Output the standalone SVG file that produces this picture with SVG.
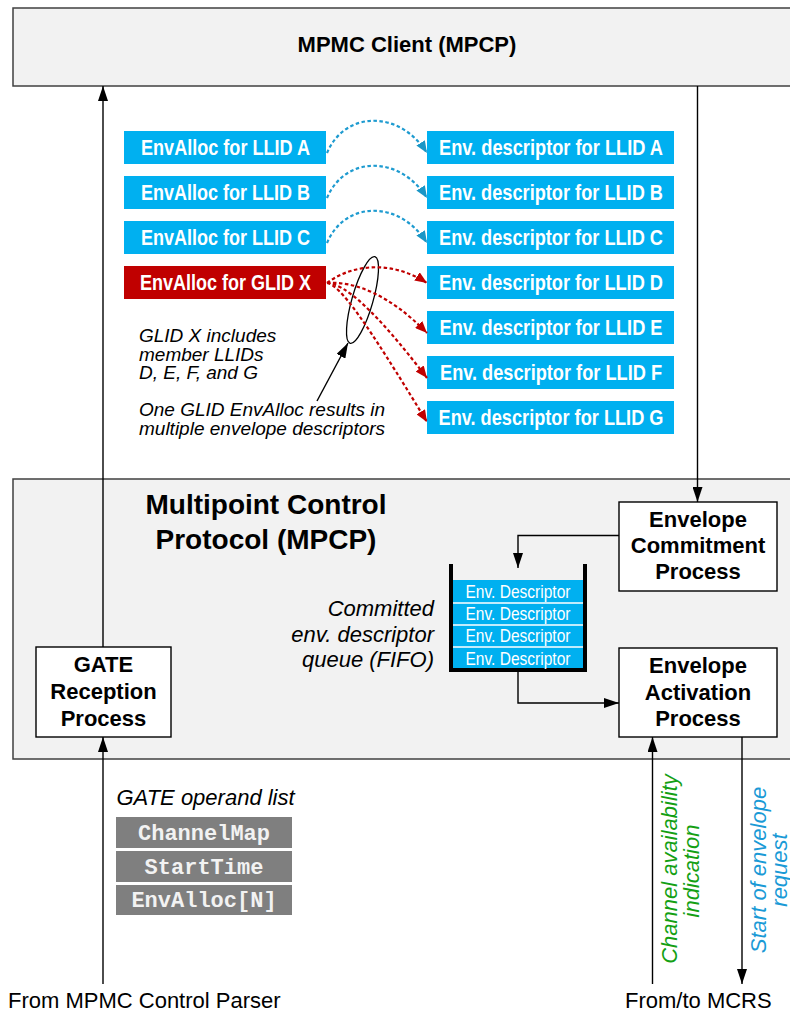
<svg xmlns="http://www.w3.org/2000/svg" width="790" height="1012" viewBox="0 0 790 1012">
  <style>
    .frame { fill: #f2f2f2; stroke: #404040; stroke-width: 1.5; }
    .proc { fill: #ffffff; stroke: #000000; stroke-width: 1.4; }
    .ttl { font-family: "Liberation Sans", Arial, sans-serif; font-weight: bold; fill: #000; text-anchor: middle; }
    .lbl { font-family: "Liberation Sans", Arial, sans-serif; font-size: 22px; fill: #000; }
    .it { font-family: "Liberation Sans", Arial, sans-serif; font-style: italic; fill: #000; }
    .blk { fill: #00b0f0; }
    .red { fill: #c00000; }
    .bt { font-family: "Liberation Sans Narrow", "Liberation Sans", Arial, sans-serif; font-weight: bold; font-size: 22px; fill: #ffffff; text-anchor: middle; }
    .qt { font-family: "Liberation Sans Narrow", "Liberation Sans", Arial, sans-serif; font-size: 18.5px; fill: #ffffff; text-anchor: middle; }
    .op { fill: #7f7f7f; }
    .ot { font-family: "Liberation Mono", "Courier New", monospace; font-weight: bold; font-size: 22px; fill: #f2f2f2; text-anchor: middle; }
    .wire { fill: none; stroke: #000; stroke-width: 1.4; }
    .bdash { fill: none; stroke: #1e9bd0; stroke-width: 2.2; stroke-dasharray: 3.5 2.5; }
    .rdash { fill: none; stroke: #c00000; stroke-width: 2.2; stroke-dasharray: 3.5 2.5; }
  </style>
  <defs>
    <marker id="ah" markerUnits="userSpaceOnUse" markerWidth="15" markerHeight="10" refX="15" refY="5" orient="auto">
      <path d="M0,0 L15,5 L0,10 z" fill="#000"/>
    </marker>
    <marker id="ahb" markerUnits="userSpaceOnUse" markerWidth="12" markerHeight="10" refX="12" refY="5" orient="auto">
      <path d="M0,0 L12,5 L0,10 z" fill="#1a96c6"/>
    </marker>
    <marker id="ahr" markerUnits="userSpaceOnUse" markerWidth="12" markerHeight="10" refX="12" refY="5" orient="auto">
      <path d="M0,0 L12,5 L0,10 z" fill="#c00000"/>
    </marker>
  </defs>

  <!-- outer frames -->
  <g id="mpmc-client">
    <rect class="frame" x="13" y="8" width="800" height="78"/>
    <text class="ttl" x="407" y="52" font-size="22">MPMC Client (MPCP)</text>
  </g>
  <g id="mpcp">
    <rect class="frame" x="13" y="479" width="800" height="280"/>
    <text class="ttl" x="266" y="514" font-size="28">Multipoint Control</text>
    <text class="ttl" x="266" y="549" font-size="28">Protocol (MPCP)</text>
  </g>

  <!-- envelope allocations -->
  <g id="envalloc-a"><rect class="blk" x="124" y="131" width="202" height="33"/><text class="bt" x="225.5" y="155" textLength="169" lengthAdjust="spacingAndGlyphs">EnvAlloc for LLID A</text></g>
  <g id="envalloc-b"><rect class="blk" x="124" y="176" width="202" height="33"/><text class="bt" x="225.5" y="200" textLength="169" lengthAdjust="spacingAndGlyphs">EnvAlloc for LLID B</text></g>
  <g id="envalloc-c"><rect class="blk" x="124" y="221" width="202" height="33"/><text class="bt" x="225.5" y="245" textLength="169" lengthAdjust="spacingAndGlyphs">EnvAlloc for LLID C</text></g>
  <g id="envalloc-x"><rect class="red" x="124" y="266" width="202" height="33"/><text class="bt" x="225.5" y="290" textLength="171" lengthAdjust="spacingAndGlyphs">EnvAlloc for GLID X</text></g>

  <!-- envelope descriptors -->
  <g id="desc-a"><rect class="blk" x="427" y="131" width="247" height="33"/><text class="bt" x="551" y="155" textLength="224" lengthAdjust="spacingAndGlyphs">Env. descriptor for LLID A</text></g>
  <g id="desc-b"><rect class="blk" x="427" y="176" width="247" height="33"/><text class="bt" x="551" y="200" textLength="224" lengthAdjust="spacingAndGlyphs">Env. descriptor for LLID B</text></g>
  <g id="desc-c"><rect class="blk" x="427" y="221" width="247" height="33"/><text class="bt" x="551" y="245" textLength="224" lengthAdjust="spacingAndGlyphs">Env. descriptor for LLID C</text></g>
  <g id="desc-d"><rect class="blk" x="427" y="266" width="247" height="33"/><text class="bt" x="551" y="290" textLength="224" lengthAdjust="spacingAndGlyphs">Env. descriptor for LLID D</text></g>
  <g id="desc-e"><rect class="blk" x="427" y="311" width="247" height="33"/><text class="bt" x="551" y="335" textLength="223" lengthAdjust="spacingAndGlyphs">Env. descriptor for LLID E</text></g>
  <g id="desc-f"><rect class="blk" x="427" y="356" width="247" height="33"/><text class="bt" x="551" y="380" textLength="222" lengthAdjust="spacingAndGlyphs">Env. descriptor for LLID F</text></g>
  <g id="desc-g"><rect class="blk" x="427" y="401" width="247" height="33"/><text class="bt" x="551" y="425" textLength="225" lengthAdjust="spacingAndGlyphs">Env. descriptor for LLID G</text></g>

  <!-- annotations -->
  <g id="glid-note">
    <text class="it" font-size="19" x="139" y="342">GLID X includes</text>
    <text class="it" font-size="19" x="139" y="360.5">member LLIDs</text>
    <text class="it" font-size="19" x="139" y="379">D, E, F, and G</text>
    <text class="it" font-size="19" x="139" y="416">One GLID EnvAlloc results in</text>
    <text class="it" font-size="19" x="139" y="434.5">multiple envelope descriptors</text>
    <ellipse cx="362.5" cy="300" rx="10.5" ry="45" transform="rotate(16 362.5 300)" fill="none" stroke="#000" stroke-width="1.3"/>
  </g>

  <!-- process blocks -->
  <g id="gate-reception">
    <rect class="proc" x="36" y="647" width="135" height="90"/>
    <text class="ttl" font-size="22" x="103.5" y="672">GATE</text>
    <text class="ttl" font-size="22" x="103.5" y="699">Reception</text>
    <text class="ttl" font-size="22" x="103.5" y="726">Process</text>
  </g>
  <g id="envelope-commitment">
    <rect class="proc" x="619" y="502" width="158" height="89"/>
    <text class="ttl" font-size="22" x="698" y="527">Envelope</text>
    <text class="ttl" font-size="22" x="698" y="553">Commitment</text>
    <text class="ttl" font-size="22" x="698" y="579">Process</text>
  </g>
  <g id="envelope-activation">
    <rect class="proc" x="619" y="648" width="158" height="89"/>
    <text class="ttl" font-size="22" x="698" y="673">Envelope</text>
    <text class="ttl" font-size="22" x="698" y="699.5">Activation</text>
    <text class="ttl" font-size="22" x="698" y="726">Process</text>
  </g>

  <!-- committed descriptor queue -->
  <g id="fifo">
    <rect class="blk" x="453" y="580" width="130" height="88"/>
    <path d="M453,603 H583 M453,625 H583 M453,647 H583" stroke="#ffffff" stroke-width="1.6"/>
    <path d="M451,564 V670 H585 V564" fill="none" stroke="#000" stroke-width="4"/>
    <text class="qt" x="518" y="598" textLength="105" lengthAdjust="spacingAndGlyphs">Env. Descriptor</text>
    <text class="qt" x="518" y="620" textLength="105" lengthAdjust="spacingAndGlyphs">Env. Descriptor</text>
    <text class="qt" x="518" y="642" textLength="105" lengthAdjust="spacingAndGlyphs">Env. Descriptor</text>
    <text class="qt" x="518" y="664.5" textLength="105" lengthAdjust="spacingAndGlyphs">Env. Descriptor</text>
    <text class="it" font-size="22" x="434" y="616" text-anchor="end">Committed</text>
    <text class="it" font-size="22" x="434" y="641.5" text-anchor="end">env. descriptor</text>
    <text class="it" font-size="22" x="434" y="667" text-anchor="end">queue (FIFO)</text>
  </g>

  <!-- GATE operand list -->
  <g id="gate-operands">
    <text class="it" font-size="22" x="116.5" y="805">GATE operand list</text>
    <rect class="op" x="116" y="817" width="176" height="31"/>
    <rect class="op" x="116" y="851" width="176" height="31"/>
    <rect class="op" x="116" y="885" width="176" height="30"/>
    <text class="ot" x="204" y="840">ChannelMap</text>
    <text class="ot" x="204" y="873.5">StartTime</text>
    <text class="ot" x="204" y="907">EnvAlloc[N]</text>
  </g>

  <!-- external endpoints -->
  <g id="mpmc-parser"><text class="lbl" x="8" y="1008">From MPMC Control Parser</text></g>
  <g id="mcrs"><text class="lbl" x="625" y="1008">From/to MCRS</text></g>

  <!-- connectors -->
  <g id="connectors">
    <path class="wire" d="M103,647 V86" marker-end="url(#ah)"/>
    <path class="wire" d="M697.5,86 V502" marker-end="url(#ah)"/>
    <path class="wire" d="M103,984 V737" marker-end="url(#ah)"/>
    <path class="wire" d="M619,535.5 H518 V568" marker-end="url(#ah)"/>
    <path class="wire" d="M518,672 V703 H619" marker-end="url(#ah)"/>
    <path class="wire" d="M652.5,984 V737" marker-end="url(#ah)"/>
    <path class="wire" d="M742,737 V984" marker-end="url(#ah)"/>
    <path class="wire" d="M317,401 L348,343" marker-end="url(#ah)"/>

    <path class="bdash" d="M327,153 C345,110 400,110 427,153" marker-end="url(#ahb)"/>
    <path class="bdash" d="M327,198 C345,155 400,155 427,198" marker-end="url(#ahb)"/>
    <path class="bdash" d="M327,243 C345,200 400,200 427,243" marker-end="url(#ahb)"/>

    <path class="rdash" d="M327,283 C355,262 395,262 427,283" marker-end="url(#ahr)"/>
    <path class="rdash" d="M327,283 C355,281 390,295 427,333" marker-end="url(#ahr)"/>
    <path class="rdash" d="M327,283 C345,284 375,310 427,378" marker-end="url(#ahr)"/>
    <path class="rdash" d="M327,283 C340,285 365,320 427,422" marker-end="url(#ahr)"/>

    <text class="it" font-size="22" fill="#14a014" style="fill:#14a014" text-anchor="middle" transform="translate(676.5,869) rotate(-90)">Channel availability</text>
    <text class="it" font-size="22" style="fill:#14a014" text-anchor="middle" transform="translate(698.5,871) rotate(-90)">indication</text>
    <text class="it" font-size="22" style="fill:#1a9ad6" text-anchor="middle" transform="translate(765.5,870) rotate(-90)">Start of envelope</text>
    <text class="it" font-size="22" style="fill:#1a9ad6" text-anchor="middle" transform="translate(787,870) rotate(-90)">request</text>
  </g>
</svg>
